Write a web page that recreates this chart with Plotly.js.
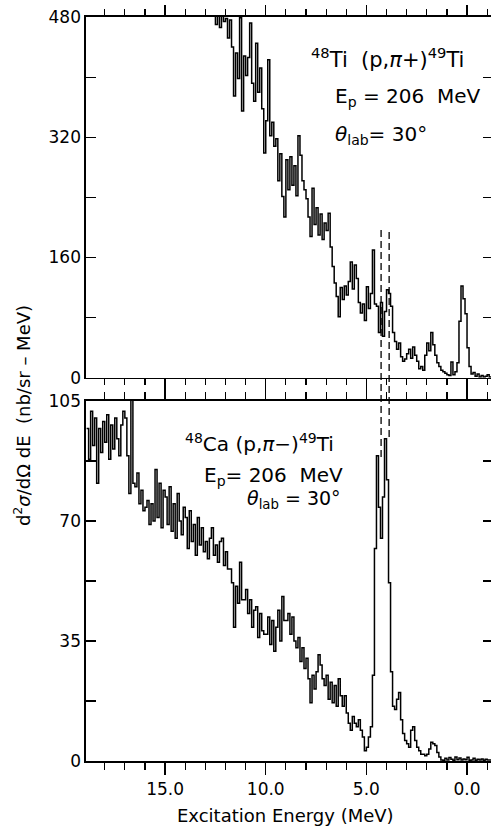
<!DOCTYPE html>
<html>
<head>
<meta charset="utf-8">
<script src="https://cdn.plot.ly/plotly-3.0.1.min.js"></script>
<style>
html,body{margin:0;padding:0;background:#fff;overflow:hidden;width:491px;height:828px;}
#chart{width:493px;height:828px;}
</style>
</head>
<body>
<div id="chart"></div>
<script>
// Excitation energy binning (MeV): first bin starts at 18.9, bins 0.1 MeV wide, descending
const E_START = 18.9;
const BIN = 0.1;

// 48Ti(p,pi+)49Ti cross sections (nb/sr-MeV), top panel
const tiValues = [
  620, 640, 610, 650, 630, 600, 645, 620, 635,
  610, 630, 600, 625, 590, 615, 605, 580, 600, 590,
  585, 600, 570, 590, 565, 580, 560, 575, 555, 570,
  560, 545, 565, 540, 555, 535, 550, 530, 545, 525,
  540, 520, 535, 515, 530, 510, 525, 505, 520, 500,
  515, 498, 510, 495, 505, 490, 500, 488, 497, 485,
  495, 488, 492, 486, 490, 470, 482, 466, 481, 474,
  478, 452, 476, 440, 375, 432, 398, 479, 355, 428,
  402, 426, 472, 392, 368, 445, 380, 412, 358, 299,
  342, 423, 322, 340, 308, 318, 262, 298, 241, 214,
  290, 250, 294, 256, 282, 242, 322, 296, 262, 250,
  238, 214, 188, 252, 204, 226, 190, 218, 184, 206,
  196, 219, 174, 148, 126, 108, 81, 120, 104, 122,
  110, 128, 154, 118, 150, 132, 100, 86, 98,
  76, 121, 92, 112, 170, 98, 95, 60, 100, 55,
  88, 117, 112, 95, 60, 48, 38, 46, 28, 22,
  25, 32, 38, 26, 41, 30, 22, 12, 15, 10,
  30, 46, 36, 60, 44, 30, 20, 15, 10, 8,
  6, 4, 3, 21, 4, 8, 20, 75, 122, 105,
  85, 40, 15, 5, 7, 2, 5, 1, 3, 1,
  2, 4, 1, 2
];

// 48Ca(p,pi-)49Ti cross sections (nb/sr-MeV), bottom panel
const caValues = [
  97, 88, 102, 92, 100, 81, 97, 90, 99,
  93, 101, 88, 98, 91, 100, 94, 89, 98, 102,
  100, 89, 78, 120, 81, 80, 84, 75, 79, 73,
  74, 76, 69, 75, 70, 85, 71, 81, 68, 79,
  77, 69, 80, 67, 75, 65, 78, 70, 66, 74,
  71, 62, 73, 64, 69, 60, 71, 63, 68, 61,
  64, 59, 65, 68, 60, 63, 58, 64, 65, 57,
  61, 56, 56, 52, 39, 51, 46, 58, 47, 47,
  50, 43, 47, 39, 44, 45, 36, 43, 38, 37,
  37, 42, 34, 41, 32, 39, 44, 35, 48, 41,
  41, 43, 37, 42, 35, 33, 36, 29, 33, 27,
  30, 24, 17, 25, 21, 26, 31, 28, 24, 22,
  25, 18, 23, 17, 22, 16, 24, 19, 16, 19,
  14, 11, 9, 13, 11, 10, 12, 9, 7,
  3, 4, 7, 10, 25, 62, 89, 74, 65, 77,
  94, 82, 52, 26, 16, 15, 18, 20, 12, 8,
  6, 5, 4, 9, 10, 6, 4, 3, 2, 2,
  1.5, 2, 3.5, 5.5, 5, 4.5, 2.5, 1.2, 0.3, 0.2,
  0.8, 0.3, 1.0, 0.5, 0.2, 1.2, 0.4, 0.9, 0.3, 0.6,
  0.4, 1.1, 0.2, 0.3, 0.8, 0.2, 0.5, 0.3, 0.6, 0.2,
  0.5, 0.3, 0.3, 0.4
];

// Energies of the two dashed marker lines (MeV)
const markerE = [4.27, 3.87];

// Axis ranges
const xRange = [18.93, -1.29];
const tiRange = [0, 480];
const caRange = [0, 105];

const FONT = 'DejaVu Sans, Liberation Sans, sans-serif';
const BLACK = '#000';

function hist(y, xa, ya) {
  return {x0: E_START, dx: -BIN, y: y, xaxis: xa, yaxis: ya, type: 'scatter', mode: 'lines',
    line: {shape: 'hv', color: BLACK, width: 1.5}, hoverinfo: 'skip', showlegend: false};
}

const traces = [
  hist(tiValues, 'x2', 'y2'),
  hist(caValues, 'x', 'y')
];

function xAx(extra) {
  return Object.assign({
    range: xRange.slice(), autorange: false, tick0: 0, dtick: 5, showgrid: false, zeroline: false,
    showline: true, mirror: 'ticks', linecolor: BLACK, linewidth: 1.6, tickcolor: BLACK, tickwidth: 1.4,
    tickfont: {family: FONT, size: 17, color: BLACK}, tickformat: '.1f'
  }, extra);
}
function yAx(extra) {
  return Object.assign({
    autorange: false, showgrid: false, zeroline: false, showline: true, mirror: 'ticks', linecolor: BLACK,
    linewidth: 1.6, tickcolor: BLACK, tickwidth: 1.4, ticks: 'inside', ticklen: 10,
    tickfont: {family: FONT, size: 17, color: BLACK}
  }, extra);
}

const topDom = [0.5152, 1];
const botDom = [0, 0.4839];

const layout = {
  width: 493, height: 828,
  margin: {l: 86, r: 0, t: 17, b: 67},
  paper_bgcolor: '#fff', plot_bgcolor: '#fff',
  showlegend: false,
  xaxis: xAx({anchor: 'y', ticks: 'outside', ticklen: 12,
    minor: {dtick: 1, tick0: 0, ticks: 'outside', ticklen: 7, tickwidth: 1.2, tickcolor: BLACK}}),
  xaxis2: xAx({anchor: 'y2', ticks: 'outside', ticklen: 10, showticklabels: false,
    minor: {dtick: 1, tick0: 0, ticks: 'outside', ticklen: 6, tickwidth: 1.2, tickcolor: BLACK}}),
  yaxis: yAx({domain: botDom, range: caRange.slice(), tick0: 0, dtick: 35, anchor: 'x',
    minor: {dtick: 17.5, ticks: 'inside', ticklen: 10, tickwidth: 1.2, tickcolor: BLACK}}),
  yaxis2: yAx({domain: topDom, range: tiRange.slice(), tick0: 0, dtick: 160, anchor: 'x2',
    minor: {dtick: 80, ticks: 'inside', ticklen: 10, tickwidth: 1.2, tickcolor: BLACK}}),
  shapes: [
    {type: 'line', xref: 'x', yref: 'paper', x0: markerE[0], x1: markerE[0], y0: 0.4086, y1: 0.715,
     line: {color: BLACK, width: 1.3, dash: '7px,4px'}},
    {type: 'line', xref: 'x', yref: 'paper', x0: markerE[1], x1: markerE[1], y0: 0.4355, y1: 0.715,
     line: {color: BLACK, width: 1.3, dash: '7px,4px'}}
  ],
  annotations: [
    {xref: 'paper', yref: 'paper', x: 0.549, y: 0.945, xanchor: 'left', yanchor: 'middle', showarrow: false,
     text: '<sup>48</sup>Ti\u00a0 (p,<i>π</i>+)<sup>49</sup>Ti', font: {family: FONT, size: 21, color: BLACK}},
    {xref: 'paper', yref: 'paper', x: 0.607, y: 0.893, xanchor: 'left', yanchor: 'middle', showarrow: false,
     text: 'E<sub>p</sub> = 206\u00a0\u00a0MeV', font: {family: FONT, size: 20, color: BLACK}},
    {xref: 'paper', yref: 'paper', x: 0.607, y: 0.842, xanchor: 'left', yanchor: 'middle', showarrow: false,
     text: '<i>θ</i><sub>lab</sub>= 30°', font: {family: FONT, size: 20, color: BLACK}},
    {xref: 'paper', yref: 'paper', x: 0.239, y: 0.428, xanchor: 'left', yanchor: 'middle', showarrow: false,
     text: '<sup>48</sup>Ca (p,<i>π</i>−)<sup>49</sup>Ti', font: {family: FONT, size: 20, color: BLACK}},
    {xref: 'paper', yref: 'paper', x: 0.284, y: 0.383, xanchor: 'left', yanchor: 'middle', showarrow: false,
     text: 'E<sub>p</sub>= 206\u00a0\u00a0MeV', font: {family: FONT, size: 20, color: BLACK}},
    {xref: 'paper', yref: 'paper', x: 0.391, y: 0.351, xanchor: 'left', yanchor: 'middle', showarrow: false,
     text: '<i>θ</i><sub>lab</sub> = 30°', font: {family: FONT, size: 19, color: BLACK}},
    {xref: 'paper', yref: 'paper', x: 0.489, y: -0.0726, xanchor: 'center', yanchor: 'middle', showarrow: false,
     text: 'Excitation Energy (MeV)', font: {family: FONT, size: 18, color: BLACK}},
    {xref: 'paper', yref: 'paper', x: -0.157, y: 0.4637, xanchor: 'center', yanchor: 'middle', showarrow: false,
     textangle: -90, text: 'd<sup>2</sup><i>σ</i>/dΩ dE\u00a0\u00a0(nb/sr – MeV)', font: {family: FONT, size: 18, color: BLACK}}
  ]
};

Plotly.newPlot('chart', traces, layout, {staticPlot: true, displayModeBar: false});
</script>
</body>
</html>
